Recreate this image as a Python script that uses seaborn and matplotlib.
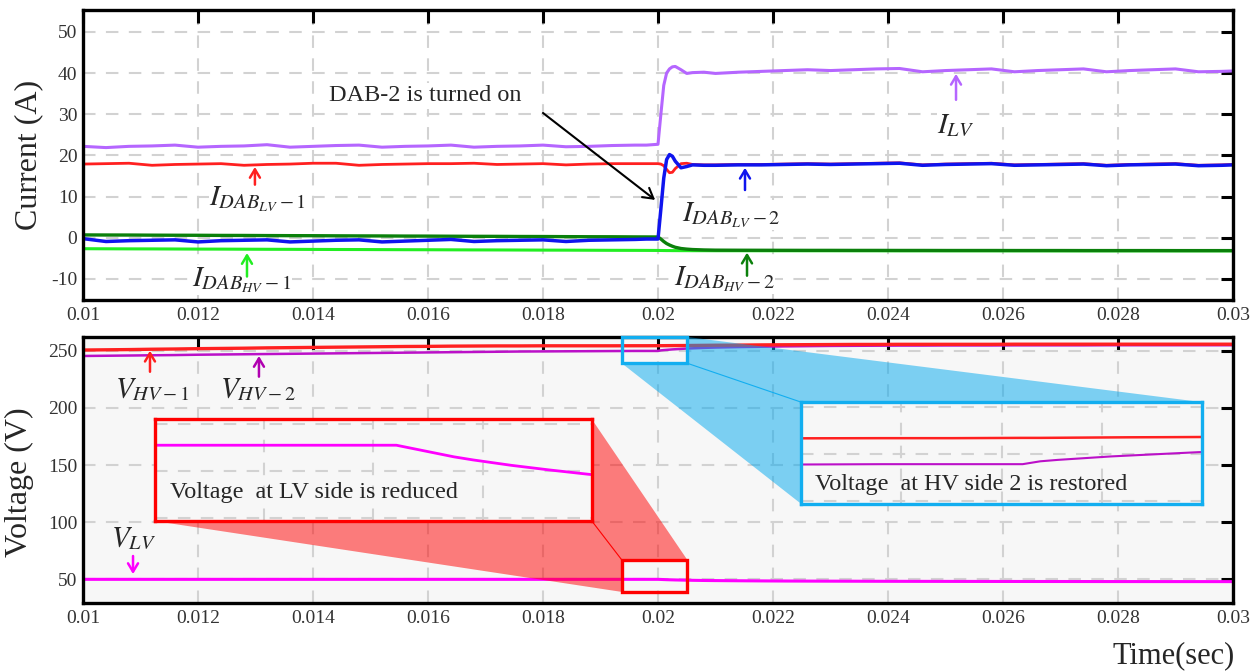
import numpy as np
import pandas as pd
import seaborn as sns
import matplotlib.pyplot as plt
from matplotlib.patches import Rectangle, Polygon

# ---------------------------------------------------------------- data
t = [0.0100, 0.0104, 0.0108, 0.0112, 0.0116, 0.0120, 0.0124, 0.0128, 0.0132, 0.0136,
     0.0140, 0.0144, 0.0148, 0.0152, 0.0156, 0.0160, 0.0164, 0.0168, 0.0172, 0.0176,
     0.0180, 0.0184, 0.0188, 0.0192, 0.0196,
     0.0198, 0.0200, 0.02005, 0.0201, 0.02015, 0.0202, 0.02025, 0.0203, 0.0204, 0.0205,
     0.0206, 0.0208, 0.0210,
     0.0214, 0.0218, 0.0222, 0.0226, 0.0230, 0.0234, 0.0238, 0.0242, 0.0246, 0.0250,
     0.0254, 0.0258, 0.0262, 0.0266, 0.0270, 0.0274, 0.0278, 0.0282, 0.0286, 0.0290,
     0.0294, 0.0298, 0.0300]

# currents (A)
i_lv = [22.2, 21.9, 22.2, 22.3, 22.5, 22.0, 22.2, 22.3, 22.6, 22.0, 22.2, 22.4, 22.5,
        22.0, 22.2, 22.3, 22.5, 22.0, 22.2, 22.3, 22.5, 22.1, 22.2, 22.4, 22.5,
        22.5, 22.7, 30.0, 37.0, 40.0, 41.0, 41.5, 41.6, 40.8, 39.9, 40.1, 40.2, 39.9,
        40.2, 40.4, 40.6, 40.8, 40.6, 40.8, 41.0, 41.1, 40.3, 40.6, 40.8, 41.0, 40.3,
        40.6, 40.8, 41.0, 40.3, 40.6, 40.8, 41.0, 40.3, 40.4, 40.5]
i_dab_lv1 = [17.9, 18.0, 18.1, 17.6, 17.8, 17.9, 18.0, 17.6, 17.8, 17.9, 18.1, 18.1, 17.6,
             17.8, 17.9, 18.0, 18.0, 18.1, 17.8, 17.9, 18.0, 17.7, 17.9, 18.0, 18.0,
             18.0, 18.0, 17.9, 17.5, 16.6, 15.8, 15.9, 16.8, 18.0, 18.1, 17.8, 17.7, 17.7,
             17.8, 17.8, 17.9, 18.0, 17.9, 18.0, 18.1, 18.2, 17.7, 17.9, 18.0, 18.1, 17.7,
             17.8, 17.9, 18.0, 17.6, 17.8, 17.9, 18.0, 17.6, 17.7, 17.8]
i_dab_lv2 = [-0.2, -0.9, -0.7, -0.6, -0.5, -1.0, -0.7, -0.6, -0.5, -1.0, -0.8, -0.6, -0.5,
             -1.0, -0.8, -0.6, -0.4, -0.9, -0.7, -0.6, -0.5, -0.9, -0.6, -0.5, -0.4,
             -0.3, -0.3, 7.0, 14.5, 19.0, 20.2, 19.8, 18.6, 17.0, 17.3, 17.7, 17.6, 17.6,
             17.7, 17.7, 17.8, 17.9, 17.8, 17.9, 18.0, 18.1, 17.6, 17.8, 17.9, 18.0, 17.6,
             17.7, 17.8, 17.9, 17.5, 17.7, 17.8, 17.9, 17.5, 17.6, 17.7]
i_dab_hv2 = [0.70, 0.68, 0.67, 0.64, 0.62, 0.61, 0.58, 0.57, 0.54, 0.52, 0.51, 0.48, 0.46,
             0.45, 0.42, 0.41, 0.38, 0.36, 0.35, 0.32, 0.31, 0.28, 0.26, 0.25, 0.22,
             0.21, 0.20, -0.3, -0.9, -1.4, -1.75, -2.05, -2.3, -2.6, -2.75, -2.85, -2.95, -3.0,
             -3.02, -3.03, -3.04, -3.05, -3.05, -3.06, -3.06, -3.07, -3.07, -3.08, -3.08,
             -3.08, -3.09, -3.09, -3.09, -3.10, -3.10, -3.10, -3.10, -3.11, -3.11, -3.11, -3.11]
i_dab_hv1 = [-2.65, -2.67, -2.69, -2.70, -2.72, -2.74, -2.75, -2.77, -2.79, -2.80, -2.82,
             -2.84, -2.85, -2.87, -2.89, -2.90, -2.92, -2.94, -2.95, -2.97, -2.99, -3.00,
             -3.02, -3.04, -3.05,
             -3.06, -3.07, -3.08, -3.09, -3.10, -3.10, -3.11, -3.11, -3.12, -3.12, -3.13,
             -3.13, -3.14,
             -3.14, -3.15, -3.15, -3.15, -3.15, -3.15, -3.15, -3.16, -3.16, -3.16, -3.16,
             -3.16, -3.16, -3.16, -3.17, -3.17, -3.17, -3.17, -3.17, -3.17, -3.17, -3.17, -3.17]

# voltages (V)
v_hv1 = [250.6, 250.8, 251.0, 251.3, 251.5, 251.8, 252.0, 252.2, 252.5, 252.7, 252.9, 253.1,
         253.3, 253.5, 253.7, 253.8, 254.0, 254.1, 254.2, 254.2, 254.3, 254.3, 254.3, 254.3,
         254.35,
         254.35, 254.4, 254.4, 254.42, 254.44, 254.46, 254.48, 254.5, 254.52, 254.55, 254.6,
         254.7, 254.8,
         254.9, 255.1, 255.2, 255.3, 255.4, 255.5, 255.5, 255.6, 255.6, 255.6, 255.6, 255.6,
         255.7, 255.7, 255.7, 255.7, 255.7, 255.7, 255.7, 255.7, 255.7, 255.7, 255.7]
v_hv2 = [245.4, 245.6, 245.8, 246.0, 246.2, 246.5, 246.7, 246.9, 247.1, 247.3, 247.5, 247.7,
         247.9, 248.1, 248.3, 248.5, 248.7, 248.9, 249.1, 249.3, 249.4, 249.5, 249.6, 249.7,
         249.8,
         249.8, 249.8, 250.3, 250.55, 250.75, 250.95, 251.15, 251.3, 251.6, 251.9, 252.1,
         252.5, 252.8,
         253.2, 253.5, 253.8, 254.0, 254.2, 254.3, 254.4, 254.5, 254.5, 254.6, 254.6, 254.6,
         254.7, 254.7, 254.7, 254.7, 254.8, 254.8, 254.8, 254.8, 254.8, 254.8, 254.8]
v_lv = [50.0, 50.0, 50.0, 50.0, 50.0, 50.0, 50.0, 50.0, 50.0, 50.0, 50.0, 50.0, 50.0,
        50.0, 50.0, 50.0, 50.0, 50.0, 50.0, 50.0, 50.0, 50.0, 50.0, 50.0, 50.0,
        50.0, 50.0, 49.9, 49.8, 49.7, 49.62, 49.55, 49.48, 49.36, 49.25, 49.15, 49.0, 48.9,
        48.75, 48.62, 48.52, 48.45, 48.4, 48.35, 48.3, 48.26, 48.22, 48.2, 48.17, 48.15,
        48.13, 48.11, 48.1, 48.08, 48.06, 48.05, 48.04, 48.03, 48.02, 48.01, 48.0]

x_ticks = [0.010, 0.012, 0.014, 0.016, 0.018, 0.020, 0.022, 0.024, 0.026, 0.028, 0.030]
x_tick_labels = ['0.01', '0.012', '0.014', '0.016', '0.018', '0.02',
                 '0.022', '0.024', '0.026', '0.028', '0.03']
i_ticks = [-10, 0, 10, 20, 30, 40, 50]
v_ticks = [50, 100, 150, 200, 250]

df = pd.DataFrame({'t': t, 'i_lv': i_lv, 'i_dab_lv1': i_dab_lv1, 'i_dab_lv2': i_dab_lv2,
                   'i_dab_hv1': i_dab_hv1, 'i_dab_hv2': i_dab_hv2,
                   'v_hv1': v_hv1, 'v_hv2': v_hv2, 'v_lv': v_lv})

# ---------------------------------------------------------------- style
sns.set_style('white')
plt.rcParams['font.family'] = ['Liberation Serif', 'DejaVu Serif']
plt.rcParams['mathtext.fontset'] = 'stix'
plt.rcParams['axes.unicode_minus'] = False

C_LV = '#b566ff'
C_RED = '#ff2020'
C_BLUE = '#0f14ee'
C_DGREEN = '#0b800b'
C_LIME = '#22ee22'
C_VHV2 = '#bb10c8'
C_VLV = '#ff00ff'
C_INSET_RED = '#ff0000'
C_INSET_BLUE = '#12aef0'

GRID = dict(color='#d2d2d2', linestyle=(0, (6, 5)), linewidth=1.5)

W, H = 1258, 672
fig = plt.figure(figsize=(W / 100, H / 100), dpi=100)
ax1 = fig.add_axes([83 / W, 1 - 300 / H, 1150 / W, 290 / H])
ax2 = fig.add_axes([83 / W, 1 - 603 / H, 1150 / W, 266 / H])


def style_axes(ax, yticks, ylim, face):
    ax.set_facecolor(face)
    ax.set_xlim(0.01, 0.03)
    ax.set_ylim(*ylim)
    ax.set_xticks(x_ticks)
    ax.set_xticklabels(x_tick_labels)
    ax.set_yticks(yticks)
    ax.tick_params(direction='in', length=9, width=2.2, top=True, right=True,
                   labelsize=14, labelcolor='#333333', color='black')
    ax.tick_params(axis='x', pad=5)
    ax.tick_params(axis='y', pad=4)
    for s in ax.spines.values():
        s.set_linewidth(2.4)
        s.set_color('black')
        s.set_visible(True)
    ax.grid(True, **GRID)
    ax.set_axisbelow(True)
    ax.set_xlabel('')


# ---------------------------------------------------------------- currents
sns.lineplot(data=df, x='t', y='i_dab_hv1', ax=ax1, color=C_LIME, lw=2.2)
sns.lineplot(data=df, x='t', y='i_dab_hv2', ax=ax1, color=C_DGREEN, lw=2.4)
sns.lineplot(data=df, x='t', y='i_lv', ax=ax1, color=C_LV, lw=2.2)
sns.lineplot(data=df, x='t', y='i_dab_lv1', ax=ax1, color=C_RED, lw=2.0)
sns.lineplot(data=df, x='t', y='i_dab_lv2', ax=ax1, color=C_BLUE, lw=2.5)
style_axes(ax1, i_ticks, (-15.1, 55.3), 'white')
ax1.set_ylabel('Current (A)', fontsize=23)
ax1.yaxis.set_label_coords(-0.035, 0.5)

LBL = 21
WHITE_BOX = dict(facecolor='white', edgecolor='none', pad=0.5)


def arrow(ax, x, y_tail, y_head, color, lw=1.8):
    ax.annotate('', xy=(x, y_head), xytext=(x, y_tail),
                arrowprops=dict(arrowstyle='->,head_length=0.5,head_width=0.3',
                                color=color, lw=lw, shrinkA=0, shrinkB=0,
                                mutation_scale=12), zorder=7)


ax1.text(0.013043, 9.6, r'$I_{DAB_{LV}-1}$', fontsize=LBL, ha='center', va='center',
         bbox=WHITE_BOX, zorder=6)
arrow(ax1, 0.01299, 12.9, 17.2, C_RED)
ax1.text(0.012765, -10.2, r'$I_{DAB_{HV}-1}$', fontsize=LBL, ha='center', va='center',
         bbox=WHITE_BOX, zorder=6)
arrow(ax1, 0.012852, -9.4, -3.7, C_LIME)
ax1.text(0.02127, 5.6, r'$I_{DAB_{LV}-2}$', fontsize=LBL, ha='center', va='center',
         bbox=WHITE_BOX, zorder=6)
arrow(ax1, 0.021513, 11.6, 17.0, C_BLUE)
ax1.text(0.02115, -10.0, r'$I_{DAB_{HV}-2}$', fontsize=LBL, ha='center', va='center',
         bbox=WHITE_BOX, zorder=6)
arrow(ax1, 0.021548, -9.2, -3.6, C_DGREEN)
ax1.text(0.025183, 27.4, r'$I_{LV}$', fontsize=LBL, ha='center', va='center',
         bbox=WHITE_BOX, zorder=6)
arrow(ax1, 0.025183, 33.5, 39.8, C_LV)

ax1.text(0.015948, 34.5, 'DAB-2 is turned on', fontsize=17.5, ha='center', va='center',
         bbox=dict(facecolor='white', edgecolor='none', pad=2), zorder=6)
ax1.annotate('', xy=(0.01995, 9.2), xytext=(0.0180, 30.3),
             arrowprops=dict(arrowstyle='->,head_length=0.6,head_width=0.35',
                             color='black', lw=1.5, shrinkA=0, shrinkB=0,
                             mutation_scale=12), zorder=7)

# ---------------------------------------------------------------- voltages
sns.lineplot(data=df, x='t', y='v_lv', ax=ax2, color=C_VLV, lw=2.2)
sns.lineplot(data=df, x='t', y='v_hv2', ax=ax2, color=C_VHV2, lw=1.8)
sns.lineplot(data=df, x='t', y='v_hv1', ax=ax2, color=C_RED, lw=2.4)
style_axes(ax2, v_ticks, (29.3, 262.0), '#f7f7f7')
ax2.set_ylabel('Voltage (V)', fontsize=23)
ax2.yaxis.set_label_coords(-0.043, 0.455)

ax2.text(0.011212, 216.5, r'$V_{HV-1}$', fontsize=LBL, ha='center', va='center', zorder=6)
arrow(ax2, 0.011165, 231.6, 250.0, C_RED)
ax2.text(0.013049, 216.5, r'$V_{HV-2}$', fontsize=LBL, ha='center', va='center', zorder=6)
arrow(ax2, 0.01306, 227.3, 245.4, '#b000b0')
ax2.text(0.010887, 86.1, r'$V_{LV}$', fontsize=LBL, ha='center', va='center', zorder=6)
arrow(ax2, 0.01087, 70.4, 54.6, C_VLV)

# zoom regions (x0, y0, width, height) in data units, and the boxes that enlarge them
lv_zoom = (0.01937, 39.0, 0.00114, 28.0)
lv_panel = (0.01125, 101.0, 0.0076, 89.0)
hv_zoom = (0.01937, 239.0, 0.00114, 23.0)
hv_panel = (0.02249, 116.0, 0.00697, 89.0)


def corners(r):
    x0, y0, w, h = r
    return dict(bl=(x0, y0), br=(x0 + w, y0), tl=(x0, y0 + h), tr=(x0 + w, y0 + h))


lz, lp = corners(lv_zoom), corners(lv_panel)
hz, hp = corners(hv_zoom), corners(hv_panel)

ax2.add_patch(Polygon([lp['bl'], lz['bl'], lz['tl'], lz['tr'], lp['tr']], closed=True,
                      facecolor=C_INSET_RED, alpha=0.5, edgecolor='none', zorder=3))
ax2.plot([lp['br'][0], lz['tl'][0]], [lp['br'][1], lz['tl'][1]], color=C_INSET_RED,
         lw=0.8, zorder=3)
ax2.add_patch(Polygon([hz['bl'], hp['bl'], hp['tr'], hz['tr'], hz['br']], closed=True,
                      facecolor='#00a8ee', alpha=0.5, edgecolor='none', zorder=3))
ax2.plot([hz['br'][0], hp['tl'][0]], [hz['br'][1], hp['tl'][1]], color=C_INSET_BLUE,
         lw=0.8, zorder=3)
ax2.add_patch(Rectangle(lz['bl'], lv_zoom[2], lv_zoom[3], fill=False,
                        edgecolor=C_INSET_RED, lw=2.4, zorder=4))
ax2.add_patch(Rectangle(hz['bl'], hv_zoom[2], hv_zoom[3], fill=False,
                        edgecolor=C_INSET_BLUE, lw=2.4, zorder=4, clip_on=False))


def inset(rect_panel, rect_zoom, ylim, edge):
    ax = ax2.inset_axes(rect_panel, transform=ax2.transData)
    ax.set_facecolor('#f7f7f7')
    x0, w = rect_zoom[0], rect_zoom[2]
    ax.set_xlim(x0, x0 + w)
    ax.set_ylim(*ylim)
    span = ylim[1] - ylim[0]
    ax.set_xticks([x0 + f * w for f in (0.25, 0.5, 0.75)])
    ax.set_yticks([ylim[0] + f * span for f in (0.03, 0.49, 0.95)])
    ax.tick_params(length=0, labelbottom=False, labelleft=False)
    ax.grid(True, **GRID)
    ax.set_axisbelow(True)
    for s in ax.spines.values():
        s.set_color(edge)
        s.set_linewidth(2.4)
    return ax


ins_lv = inset(lv_panel, lv_zoom, (48.04, 50.67), C_INSET_RED)
sns.lineplot(data=df, x='t', y='v_lv', ax=ins_lv, color=C_VLV, lw=2.0)
ins_lv.set_xlabel('')
ins_lv.set_ylabel('')
ins_lv.text(0.035, 0.28, 'Voltage  at LV side is reduced', transform=ins_lv.transAxes,
            fontsize=17.4, ha='left', va='center')

ins_hv = inset(hv_panel, hv_zoom, (242.85, 260.65), C_INSET_BLUE)
sns.lineplot(data=df, x='t', y='v_hv1', ax=ins_hv, color=C_RED, lw=1.8)
sns.lineplot(data=df, x='t', y='v_hv2', ax=ins_hv, color=C_VHV2, lw=1.5)
ins_hv.set_xlabel('')
ins_hv.set_ylabel('')
ins_hv.text(0.035, 0.19, 'Voltage  at HV side 2 is restored', transform=ins_hv.transAxes,
            fontsize=17.4, ha='left', va='center')

fig.text(1235 / W, 1 - 656 / H, 'Time(sec)', fontsize=22, ha='right', va='center')

fig.savefig('out.png', dpi=100)
